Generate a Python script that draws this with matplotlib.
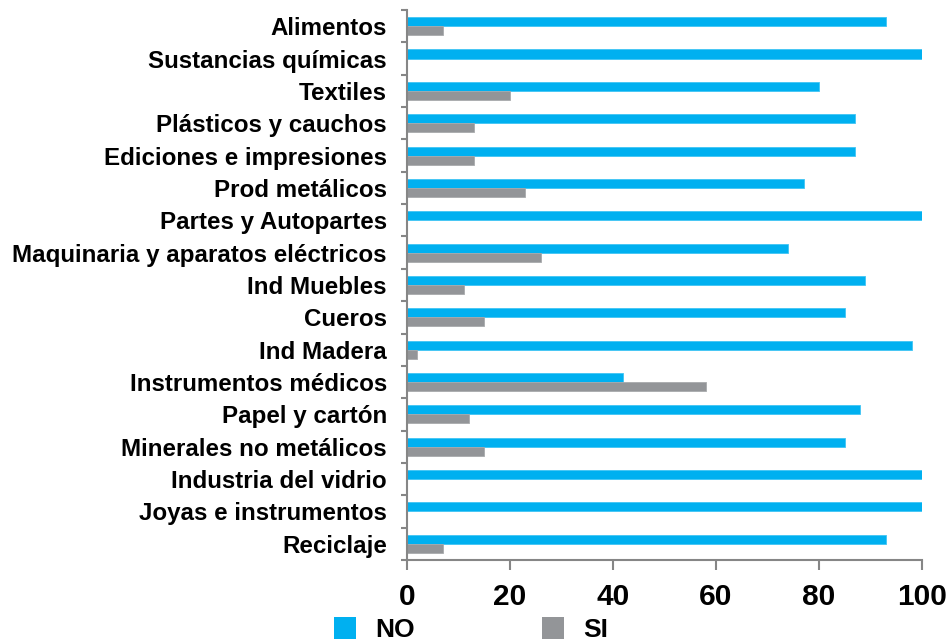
import matplotlib
matplotlib.use("Agg")
import matplotlib.pyplot as plt
from matplotlib.lines import Line2D
import numpy as np

categories = [
    "Alimentos", "Sustancias químicas", "Textiles", "Plásticos y cauchos",
    "Ediciones e impresiones", "Prod metálicos", "Partes y Autopartes",
    "Maquinaria y aparatos eléctricos", "Ind Muebles", "Cueros", "Ind Madera",
    "Instrumentos médicos", "Papel y cartón", "Minerales no metálicos",
    "Industria del vidrio", "Joyas e instrumentos", "Reciclaje",
]
no_values = [93, 100, 80, 87, 87, 77, 100, 74, 89, 85, 98, 42, 88, 85, 100, 100, 93]
si_values = [7, 0, 20, 13, 13, 23, 0, 26, 11, 15, 2, 58, 12, 15, 0, 0, 7]
x_ticks = [0, 20, 40, 60, 80, 100]
series_labels = ["NO", "SI"]

BLUE = "#00B0F0"
GREY = "#939598"
AXIS = "#868686"

plt.rcParams["font.family"] = ["Liberation Sans", "DejaVu Sans"]
plt.rcParams["font.weight"] = "bold"

fig = plt.figure(figsize=(9.52, 6.42), dpi=100)
ax = fig.add_axes([0.4275, 0.1277, 0.541, 0.8567])

pos = np.arange(len(categories))
h = 0.28
ax.barh(pos - h / 2, no_values, height=h, color=BLUE, edgecolor="#40C4F4", linewidth=0.6)
ax.barh(pos + h / 2, si_values, height=h, color=GREY, edgecolor="#A8AAAD", linewidth=0.6)

ax.set_xlim(0, 100)
ax.set_ylim(len(categories) - 0.5, -0.5)

# category boundaries get the tick marks, centres get the labels
ax.set_yticks(np.arange(len(categories) + 1) - 0.5)
ax.set_yticklabels([])
ax.set_yticks(pos, minor=True)
ax.set_yticklabels(categories, minor=True, fontsize=17.4, fontweight="bold")
ax.tick_params(axis="y", which="major", direction="out", length=4.5, width=1.5, color=AXIS)
ax.tick_params(axis="y", which="minor", length=0, pad=14.5)
for lbl in ax.get_yticklabels(minor=True):
    lbl.set_y(lbl.get_position()[1])

ax.set_xticks(x_ticks)
ax.set_xticklabels([str(t) for t in x_ticks], fontsize=21.5, fontweight="bold")
ax.tick_params(axis="x", direction="out", length=7.5, width=1.5, color=AXIS, pad=9)

for s in ("top", "right"):
    ax.spines[s].set_visible(False)
for s in ("left", "bottom"):
    ax.spines[s].set_color(AXIS)
    ax.spines[s].set_linewidth(1.5)

handles = [
    Line2D([], [], marker="s", linestyle="none", markersize=15.5, color=BLUE, markeredgewidth=0),
    Line2D([], [], marker="s", linestyle="none", markersize=15.5, color=GREY, markeredgewidth=0),
]
fig.legend(handles, series_labels, loc="center", bbox_to_anchor=(0.495, 0.019),
           ncol=2, frameon=False, borderpad=0, handlelength=0.8, handletextpad=0.75,
           columnspacing=4.8, prop={"size": 19, "weight": "bold"})

fig.savefig("out.png", dpi=100)
